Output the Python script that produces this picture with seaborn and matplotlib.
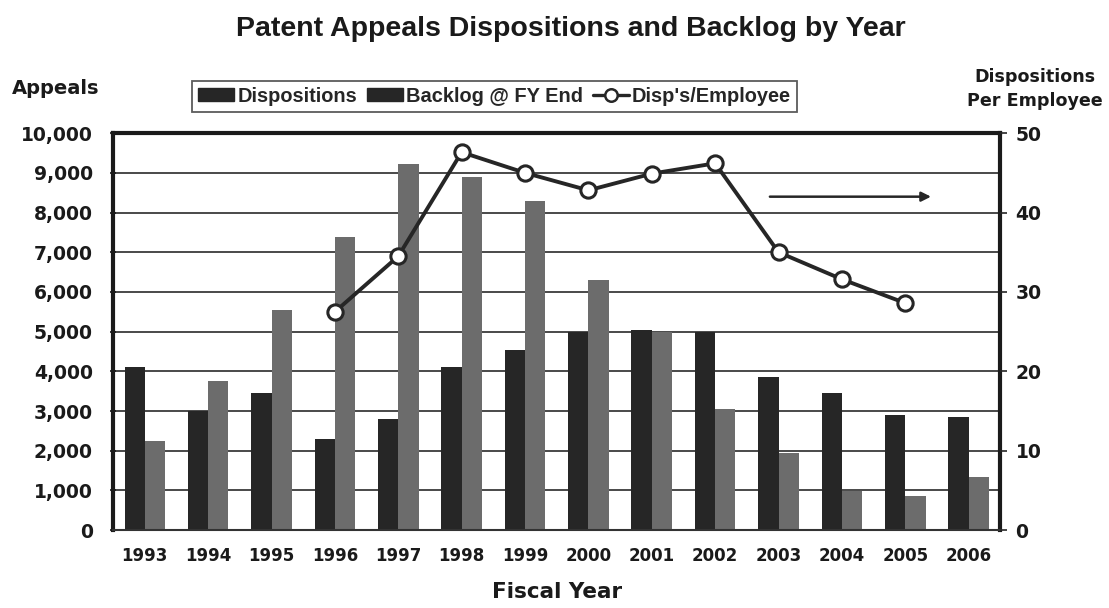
import matplotlib
matplotlib.use("Agg")
import matplotlib.pyplot as plt
from matplotlib.patches import Patch
from matplotlib.lines import Line2D
import seaborn as sns
import pandas as pd

years = ["1993", "1994", "1995", "1996", "1997", "1998", "1999",
         "2000", "2001", "2002", "2003", "2004", "2005", "2006"]
dispositions = [4100, 3000, 3450, 2300, 2800, 4100, 4550,
                5000, 5050, 5000, 3850, 3450, 2900, 2850]
backlog = [2250, 3750, 5550, 7380, 9220, 8900, 8300,
           6300, 5000, 3050, 1950, 980, 860, 1330]
line_years = ["1996", "1997", "1998", "1999", "2000",
              "2001", "2002", "2003", "2004", "2005"]
disp_per_emp = [27.5, 34.5, 47.6, 45.0, 42.8, 44.9, 46.2, 35.0, 31.6, 28.6]

series_names = ["Dispositions", "Backlog @ FY End"]
dark = "#262626"
gray = "#6c6c6c"
ink = "#1a1a1a"

df = pd.DataFrame({
    "Year": years * 2,
    "Series": [series_names[0]] * len(years) + [series_names[1]] * len(years),
    "Value": dispositions + backlog,
})
line_df = pd.DataFrame({
    "pos": [years.index(y) for y in line_years],
    "Value": disp_per_emp,
})

sns.set_theme(style="white")
plt.rcParams["font.family"] = ["DejaVu Sans"]

fig = plt.figure(figsize=(11.09, 6.08), dpi=100)
ax = fig.add_axes([0.102, 0.128, 0.800, 0.653])

sns.barplot(data=df, x="Year", y="Value", hue="Series", order=years,
            hue_order=series_names, palette=[dark, gray], width=0.64,
            saturation=1, ax=ax, legend=False, linewidth=0)

ax.set_ylim(0, 10000)
ax.set_xlim(-0.5, len(years) - 0.5)
ax.set_yticks(range(0, 10001, 1000))
ax.set_yticklabels([f"{v:,}" for v in range(0, 10001, 1000)],
                   fontsize=13.5, fontweight="bold", color=ink)
ax.set_xticks(range(len(years)))
ax.set_xticklabels(years, fontsize=12, fontweight="bold", color=ink)
ax.tick_params(axis="x", length=0, pad=12)
ax.tick_params(axis="y", length=5, width=1.2, direction="inout", pad=12, colors=ink)
ax.set_xticks([i - 0.5 for i in range(len(years) + 1)], minor=True)
ax.tick_params(axis="x", which="minor", length=5, width=1.2, color="#333333")
ax.yaxis.grid(True, color="#3a3a3a", linewidth=1.3)
ax.set_axisbelow(True)
ax.set_xlabel("Fiscal Year", fontsize=15.5, fontweight="bold", labelpad=12,
              color=ink)
ax.set_ylabel("")
for side in ["left", "top", "right"]:
    ax.spines[side].set_linewidth(3)
    ax.spines[side].set_color(ink)
ax.spines["bottom"].set_linewidth(1.5)
ax.spines["bottom"].set_color("#333333")

ax2 = ax.twinx()
sns.lineplot(data=line_df, x="pos", y="Value", ax=ax2, color=dark,
             linewidth=2.8, marker="o", markersize=11, markerfacecolor="white",
             markeredgecolor=dark, markeredgewidth=2.2)
ax2.set_ylim(0, 50)
ax2.set_yticks(range(0, 51, 10))
ax2.set_yticklabels([str(v) for v in range(0, 51, 10)],
                    fontsize=13.5, fontweight="bold", color=ink)
ax2.tick_params(axis="y", length=5, width=1.2, direction="out", pad=6)
ax2.set_ylabel("")
ax2.set_xlabel("")
ax2.grid(False)
for s in ax2.spines.values():
    s.set_visible(False)

# trend arrow annotation
arrow_start, arrow_end, arrow_level = 9.82, 12.45, 42.0
ax2.annotate("", xy=(arrow_end, arrow_level), xytext=(arrow_start, arrow_level),
             arrowprops=dict(arrowstyle="-|>", color=dark, lw=1.8,
                             mutation_scale=14))

fig.text(0.515, 0.952, "Patent Appeals Dispositions and Backlog by Year",
         ha="center", va="center", fontsize=20.5, fontweight="bold",
         family="Liberation Sans", color=ink)
fig.text(0.05, 0.855, "Appeals", ha="center", va="center", fontsize=14,
         fontweight="bold", color=ink)
fig.text(0.994, 0.854, "Dispositions\nPer Employee", ha="right", va="center",
         multialignment="center", fontsize=12.6, fontweight="bold", color=ink,
         linespacing=1.45)

handles = [
    Patch(facecolor=dark, edgecolor=dark, label="Dispositions"),
    Patch(facecolor=dark, edgecolor=dark, label="Backlog @ FY End"),
    Line2D([0], [0], color=dark, lw=2.4, marker="o", markersize=9,
           markerfacecolor="white", markeredgecolor=dark, markeredgewidth=1.8,
           label="Disp's/Employee"),
]
leg = fig.legend(handles=handles, loc="center", bbox_to_anchor=(0.446, 0.842),
                 ncol=3, frameon=True, fancybox=False, handlelength=1.8,
                 handleheight=0.6, handletextpad=0.15, columnspacing=0.5,
                 borderpad=0.3,
                 prop={"family": "Liberation Sans", "weight": "bold", "size": 14.4})
leg.get_frame().set_edgecolor("#333333")
leg.get_frame().set_linewidth(1.3)

fig.savefig("out.png", dpi=100, facecolor="white")
